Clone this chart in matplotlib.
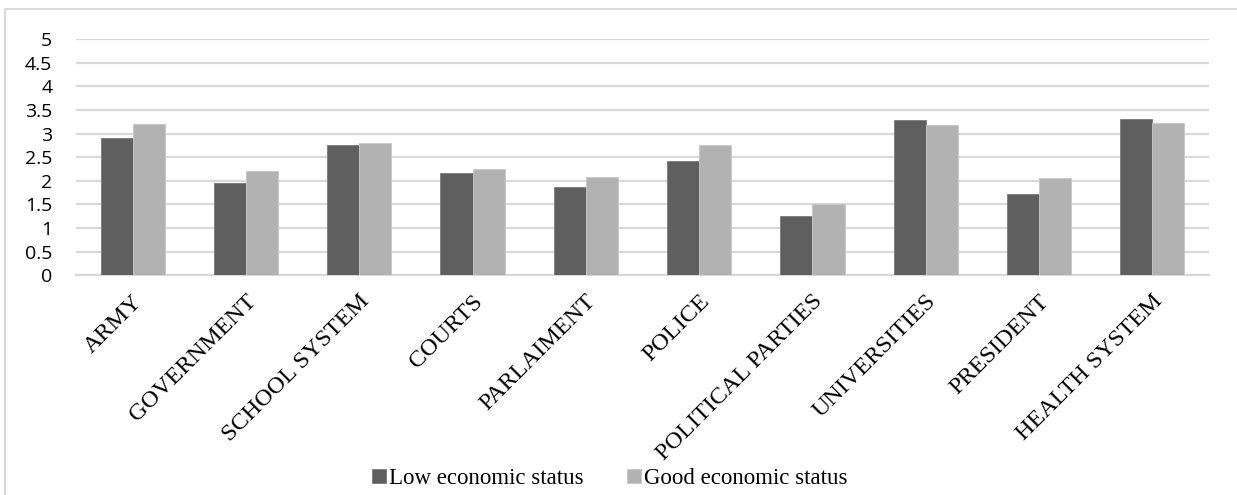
import matplotlib
matplotlib.use("Agg")
import matplotlib.pyplot as plt
import matplotlib.transforms as mtransforms
from matplotlib.patches import Rectangle
import numpy as np

institutions = ["ARMY", "GOVERNMENT", "SCHOOL SYSTEM", "COURTS", "PARLAIMENT",
                "POLICE", "POLITICAL PARTIES", "UNIVERSITIES", "PRESIDENT",
                "HEALTH SYSTEM"]
low_status = [2.90, 1.96, 2.76, 2.16, 1.86, 2.42, 1.25, 3.28, 1.73, 3.31]
good_status = [3.20, 2.21, 2.81, 2.25, 2.09, 2.76, 1.51, 3.17, 2.06, 3.22]
yticks = [0, 0.5, 1, 1.5, 2, 2.5, 3, 3.5, 4, 4.5, 5]

dark = "#5f5f5f"
light = "#b2b2b2"
grid = "#d9d9d9"

fig = plt.figure(figsize=(12.37, 4.95), dpi=100)
ax = fig.add_axes([0.0614, 0.4438, 0.916, 0.4774])

x = np.arange(len(institutions))
w = 0.283
ax.bar(x - w / 2, low_status, w, color=dark, edgecolor="#7a7a7a", linewidth=0.6,
       label="Low economic status", zorder=3)
ax.bar(x + w / 2, good_status, w, color=light, edgecolor="#c8c8c8", linewidth=0.6,
       label="Good economic status", zorder=3)

ax.set_xlim(-0.5, len(institutions) - 0.5)
ax.set_ylim(0, 5)
ax.set_yticks(yticks)
ax.set_yticklabels([f"{t:g}" for t in yticks], fontfamily="Open Sans", fontsize=14)
ax.yaxis.grid(True, color=grid, linewidth=1.6, zorder=0)
ax.set_axisbelow(True)
ax.tick_params(axis="y", length=0, pad=17)

for s in ["top", "right", "left"]:
    ax.spines[s].set_visible(False)
ax.spines["bottom"].set_color(grid)
ax.spines["bottom"].set_linewidth(1.6)

ax.set_xticks(x)
ax.set_xticklabels(institutions, fontfamily="Liberation Serif", fontsize=17.5,
                   rotation=45, ha="right", va="center", rotation_mode="anchor")
ax.tick_params(axis="x", length=0, pad=0)
shift = mtransforms.ScaledTranslation(7 / 100, -23 / 100, fig.dpi_scale_trans)
for lbl in ax.get_xticklabels():
    lbl.set_transform(lbl.get_transform() + shift)

leg = fig.legend(loc="lower center", bbox_to_anchor=(0.493, -0.03), ncol=2,
                 frameon=False, handlelength=0.6, handleheight=0.6,
                 handletextpad=0.15, columnspacing=1.9,
                 prop={"family": "Liberation Serif", "size": 16.5})

# light frame around the whole chart
fig.patches.append(Rectangle((5 / 1237, -0.1), 1.2, 1.1 - 9 / 495, fill=False,
                             edgecolor=grid, linewidth=1.5,
                             transform=fig.transFigure, clip_on=False))

fig.savefig("out.png", dpi=100, facecolor="white")
